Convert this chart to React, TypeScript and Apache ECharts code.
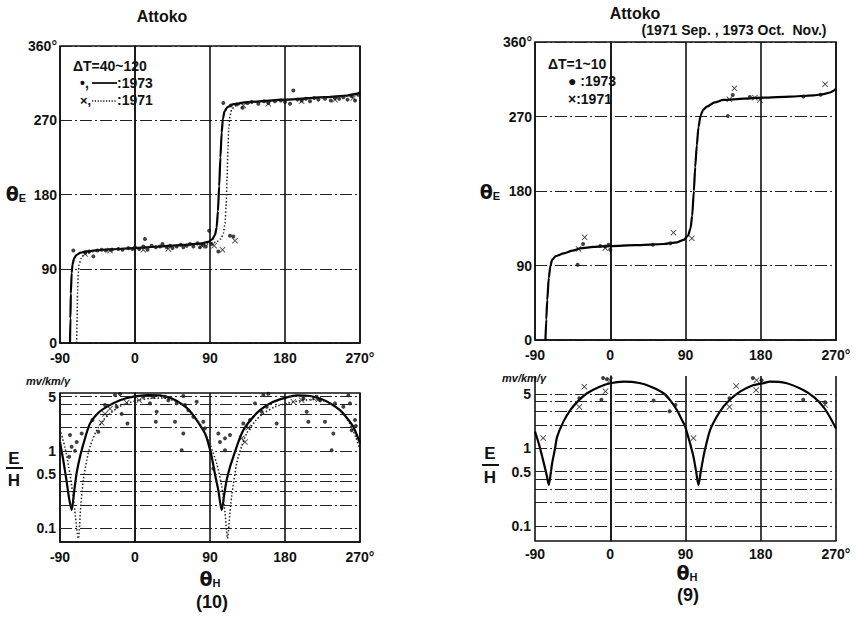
import React, { useEffect, useRef } from "react";
import * as echarts from "echarts";

// ---------- data ----------
const xTicks = [-90, 0, 90, 180, 270];
const thetaETicks = [0, 90, 180, 270, 360];
const ratioLevels = [5, 4, 3, 2, 1, 0.5, 0.4, 0.3, 0.2, 0.1];
const ratioLabels = [5, 1, 0.5, 0.1];

// (10) ΔT = 40~120 : θE vs θH
const curveL73: number[][] = [
  [-78, 0], [-77.5, 30], [-77, 60], [-76, 85], [-75, 95], [-73, 103], [-70, 107], [-65, 109.5],
  [-58, 111], [-45, 112.5], [-30, 113.5], [-2, 115], [30, 117], [60, 119], [78, 120.5], [88, 122.5],
  [93, 126], [96, 131], [98, 140], [99.5, 160], [101, 190], [102.5, 225], [104, 255], [105.5, 272],
  [107.5, 281], [111, 286], [118, 289.5], [135, 292], [180, 295], [230, 298], [255, 300], [265, 302], [270, 304],
];
const curveL71: number[][] = [
  [-70, 0], [-69.5, 30], [-69, 60], [-68, 85], [-67, 95], [-65, 102], [-62, 106], [-57, 109], [-50, 111],
  [-45, 112.2], [-30, 113.3], [0, 115], [30, 117], [60, 118.5], [85, 120], [97, 122], [103, 126], [106, 133],
  [108, 145], [109.5, 170], [110.5, 200], [111.5, 235], [112.5, 260], [114, 275], [116, 283], [120, 287.5],
  [128, 290], [150, 292.5], [200, 296], [250, 299], [270, 302],
];
const dotsL73: number[][] = [
  [-74, 112], [-50, 105], [-60, 110], [-55, 111], [-45, 112], [-40, 113], [-35, 112], [-28, 113], [-20, 114],
  [-15, 113], [-8, 115], [-3, 114], [0, 116], [5, 114], [10, 117], [12, 126], [15, 113], [20, 118], [25, 116],
  [30, 117], [33, 120], [38, 116], [42, 118], [45, 115], [50, 117], [55, 119], [58, 116], [62, 118], [66, 120],
  [70, 117], [75, 121], [78, 116], [82, 119], [85, 117], [89, 136], [92, 120], [100, 111], [114, 130], [118, 129],
  [106, 291], [115, 288], [122, 289], [129, 285], [135, 291], [140, 292], [148, 290], [155, 293], [160, 291],
  [168, 293], [175, 294], [180, 292], [186, 290], [190, 306], [195, 295], [200, 294], [205, 296], [210, 293],
  [215, 297], [220, 295], [228, 296], [235, 294], [240, 297], [245, 296], [250, 298], [255, 295], [260, 299],
  [264, 294], [268, 301],
];
const crossL71: number[][] = [
  [-60, 108], [-30, 112], [10, 113], [40, 114], [80, 118], [95, 118], [105, 113], [120, 124],
  [130, 288], [160, 290], [200, 293], [240, 295], [262, 297],
];

// (10) E/H
const ratioL73: number[][] = [
  [-90, 1.3], [-86, 0.75], [-82, 0.4], [-79, 0.24], [-76, 0.172], [-73, 0.3], [-70, 0.52], [-66, 0.84],
  [-60, 1.45], [-54, 2.26], [-44, 3.1], [-34, 3.7], [-18, 4.5], [-2, 5.0], [15, 5.25], [30, 5.2], [45, 4.7],
  [58, 3.9], [66, 3.25], [74, 2.5], [84, 1.68], [88, 1.25], [92, 0.84], [96, 0.5], [100, 0.31], [104, 0.172],
  [107, 0.27], [110, 0.42], [114, 0.62], [118, 0.84], [124, 1.3], [130, 1.85], [140, 2.6], [150, 3.35],
  [164, 4.2], [178, 4.76], [194, 5.2], [210, 5.1], [225, 4.6], [236, 4.0], [246, 3.35], [255, 2.6],
  [262, 2.04], [270, 1.25],
];
const ratioL71: number[][] = [
  [-90, 1.9], [-84, 1.1], [-78, 0.5], [-73, 0.2], [-68, 0.074], [-65, 0.2], [-62, 0.42], [-58, 0.75],
  [-54, 1.13], [-46, 1.85], [-38, 2.5], [-30, 3.04], [-20, 3.65], [-10, 4.1], [4, 4.5], [18, 4.75], [35, 4.8],
  [50, 4.3], [62, 3.6], [72, 2.75], [82, 1.9], [90, 1.2], [98, 0.69], [104, 0.35], [108, 0.16], [111, 0.074],
  [114, 0.16], [116, 0.26], [122, 0.69], [128, 1.15], [134, 1.68], [144, 2.4], [154, 3.04], [168, 3.7],
  [182, 4.1], [202, 4.5], [220, 4.6], [236, 4.0], [248, 3.2], [258, 2.2], [265, 1.5], [270, 1.02],
];
const ratioDotsL73: number[][] = [
  [-18, 5.4], [-24, 5.25], [-36, 3.9], [-22, 3.7], [-16, 3.0], [-9, 2.26], [-51, 2.5], [-44, 1.76],
  [-78, 1.6], [-70, 1.3], [-76, 1.13], [-64, 1.68], [-72, 1.0], [-79, 0.84], [10, 5.0], [18, 4.1], [22, 5.0],
  [26, 3.2], [25, 2.37], [36, 5.0], [40, 4.5], [48, 2.37], [50, 4.1], [58, 1.68], [56, 1.02], [60, 3.9],
  [64, 3.35], [70, 2.75], [82, 2.37], [84, 1.95], [58, 5.1], [74, 4.3], [94, 0.59], [100, 1.68], [102, 1.3],
  [108, 1.45], [108, 1.02], [114, 1.6], [130, 2.26], [138, 2.5], [144, 4.1], [154, 5.25], [160, 5.45],
  [158, 3.7], [152, 3.2], [170, 2.26], [202, 4.75], [206, 3.2], [208, 2.37], [218, 5.0], [222, 4.5],
  [228, 2.37], [238, 1.68], [236, 1.02], [240, 4.1], [250, 3.7], [256, 5.2], [258, 4.1], [260, 1.85],
  [264, 2.5], [265, 2.1],
];
const ratioCrossL71: number[][] = [
  [-40, 2.3], [-36, 3.0], [-30, 3.5], [-10, 4.2], [5, 4.5], [128, 1.45], [132, 1.3], [136, 2.0],
  [190, 4.3], [200, 4.5], [214, 4.8], [220, 4.6],
];

// (9) ΔT = 1~10 : θE vs θH
const curveR: number[][] = [
  [-77.5, 0], [-76.5, 25], [-75.4, 48], [-73.5, 75], [-71.5, 90], [-69.5, 97], [-65, 101.5], [-55.6, 104.7],
  [-45, 108], [-35.7, 110.8], [-20, 112.5], [0, 113.5], [30, 114.5], [64, 116], [80, 118], [88, 121], [93, 126],
  [96, 135], [98, 150], [100, 180], [101.6, 209], [103.5, 235], [105.5, 257], [108, 271], [111, 278],
  [115.5, 282], [125, 287], [135, 290], [160, 291.5], [183, 292.7], [215, 294], [243, 295.5], [255, 297],
  [263, 299], [267, 301], [270, 304],
];
const dotsR73: number[][] = [
  [-39, 91], [-32.5, 116], [-12, 113.5], [-6, 113], [0, 109], [-2, 115], [51, 115], [72, 117],
  [140.6, 270.6], [146.5, 296], [167, 293.5], [231, 294], [251.6, 296.4],
];
const crossR71: number[][] = [
  [-38, 110], [-30.6, 124], [-6, 111], [75.6, 129.6], [97.6, 122.8], [142.5, 290.7], [148.5, 304],
  [173, 292.7], [179, 290], [257, 309],
];

// (9) E/H
const ratioR: number[][] = [
  [-90, 1.64], [-85, 1.1], [-80, 0.68], [-76, 0.45], [-73.5, 0.337], [-71.5, 0.45], [-69.5, 0.64], [-66, 1.0],
  [-63.5, 1.41], [-56, 2.2], [-47.6, 3.11], [-38, 4.1], [-27.7, 5.1], [-14, 6.1], [0, 6.86], [16, 7.2],
  [35, 6.9], [50, 6.1], [63.7, 5.1], [72, 4.1], [79.7, 3.1], [85, 2.4], [89.6, 1.9], [95, 1.2], [99.5, 0.78],
  [103, 0.48], [105.5, 0.337], [108, 0.48], [111.5, 0.78], [115, 1.15], [119.5, 1.72], [127, 2.5],
  [135.4, 3.43], [145, 4.4], [155.3, 5.35], [170, 6.4], [183, 6.86], [191, 7.2], [210, 6.9], [230.8, 5.6],
  [244, 4.5], [254.7, 3.43], [262, 2.6], [270, 1.8],
];
const ratioDotsR73: number[][] = [
  [-37, 4.4], [-10.6, 4.2], [-8.6, 8.0], [-4, 7.7], [51.8, 4.1], [70.9, 3.0], [78, 3.6], [142.6, 4.4],
  [170.5, 8.0], [181, 7.5], [230.8, 4.2], [257, 3.9],
];
const ratioCrossR71: number[][] = [
  [-80.2, 1.35], [-37, 3.4], [-31, 6.2], [-5.7, 5.4], [0, 7.5], [99.5, 1.35], [142.6, 3.4], [150.6, 6.3],
  [174.4, 5.6], [175, 7.5], [257, 3.6],
];

// ---------- styles ----------
const INK = "#111";
const NARROW = "'Liberation Sans Narrow', 'Liberation Sans', Arial, sans-serif";
const SANS = "'Liberation Sans', Arial, sans-serif";
const CROSS = "path://M0,1L1,0L5,4L9,0L10,1L6,5L10,9L9,10L5,6L1,10L0,9L4,5Z";
const DASHDOT = [12, 3, 2, 3];

function xAxisFor(gridIndex: number, margin = 8) {
  return {
    gridIndex,
    type: "value",
    min: -90,
    max: 270,
    interval: 90,
    axisLine: { show: true, lineStyle: { color: INK, width: 1.5 } },
    axisTick: { show: false },
    axisLabel: {
      color: INK,
      fontFamily: NARROW,
      fontWeight: "bold",
      fontSize: 14,
      lineHeight: 13,
      margin,
      formatter: (v: number) => (xTicks.includes(v) ? (v === 270 ? "270°" : String(v)) : ""),
    },
    splitLine: { show: true, lineStyle: { color: INK, width: 1.6 } },
  };
}

function thetaYAxis(gridIndex: number) {
  return {
    gridIndex,
    type: "value",
    min: 0,
    max: 360,
    interval: 90,
    axisLine: { show: true, lineStyle: { color: INK, width: 1.5 } },
    axisTick: { show: false },
    axisLabel: {
      color: INK,
      fontFamily: NARROW,
      fontWeight: "bold",
      fontSize: 14,
      lineHeight: 13,
      margin: 3,
      formatter: (v: number) => (thetaETicks.includes(v) ? (v === 360 ? "360°" : String(v)) : ""),
    },
    splitLine: { show: true, lineStyle: { color: "#222", width: 1.2, type: DASHDOT } },
  };
}

function ratioYAxis(gridIndex: number, min: number, max: number) {
  return {
    gridIndex,
    type: "log",
    logBase: 10,
    min,
    max,
    axisLine: { show: true, lineStyle: { color: INK, width: 1.5 } },
    axisTick: { show: false },
    axisLabel: { show: false },
    splitLine: { show: false },
  };
}

function levelMarkLine() {
  return {
    silent: true,
    symbol: ["none", "none"],
    animation: false,
    lineStyle: { color: "#222", width: 1.2, type: DASHDOT },
    data: ratioLevels.map((v) => ({
      yAxis: v,
      label: ratioLabels.includes(v)
        ? {
            show: true,
            position: "start",
            distance: 4,
            formatter: String(v),
            color: INK,
            fontFamily: NARROW,
            fontWeight: "bold",
            fontSize: 14,
            lineHeight: 13,
          }
        : { show: false },
    })),
  };
}

function curve(xi: number, data: number[][], dotted: boolean, smoothMono: boolean, extra: any = {}) {
  return {
    type: "line",
    xAxisIndex: xi,
    yAxisIndex: xi,
    data,
    showSymbol: false,
    symbol: "none",
    smooth: 0.25,
    smoothMonotone: smoothMono ? "x" : undefined,
    silent: true,
    lineStyle: dotted ? { color: "#222", width: 1.5, type: [1.5, 2] } : { color: "#000", width: 2.2 },
    z: 3,
    ...extra,
  };
}

function dots(xi: number, data: number[][]) {
  return {
    type: "scatter",
    xAxisIndex: xi,
    yAxisIndex: xi,
    data,
    symbol: "circle",
    symbolSize: 4,
    itemStyle: { color: INK },
    silent: true,
    z: 4,
  };
}

function crosses(xi: number, data: number[][]) {
  return {
    type: "scatter",
    xAxisIndex: xi,
    yAxisIndex: xi,
    data,
    symbol: CROSS,
    symbolSize: 6,
    itemStyle: { color: INK },
    silent: true,
    z: 4,
  };
}

function txt(x: number, y: number, text: string, font: string, align = "center", extra: any = {}) {
  return {
    type: "text",
    x,
    y,
    silent: true,
    style: {
      text,
      font,
      fill: INK,
      align,
      textAlign: align,
      verticalAlign: "middle",
      textVerticalAlign: "middle",
      ...extra,
    },
  };
}

function gline(x1: number, y1: number, x2: number, y2: number, dash?: number[], w = 1.6) {
  return {
    type: "line",
    silent: true,
    shape: { x1, y1, x2, y2 },
    style: { stroke: INK, lineWidth: w, lineDash: dash },
  };
}

function thetaLabel(x: number, y: number, sub: string) {
  return txt(x, y, "{a|θ}{b|" + sub + "}", "bold 18px " + SANS, "center", {
    rich: {
      a: { font: "bold 19px 'DejaVu Sans', sans-serif", fill: INK, lineHeight: 18 },
      b: { font: "bold 11px " + SANS, fill: INK, padding: [7, 0, 0, 0], lineHeight: 11 },
    },
  });
}

export default function App() {
  const ref = useRef<HTMLDivElement>(null);
  useEffect(() => {
    if (!ref.current) return;
    const chart = echarts.init(ref.current, undefined, { renderer: "svg" });
    const option: any = {
      animation: false,
      backgroundColor: "#fff",
      grid: [
        { left: 60, top: 46, width: 300, height: 297, show: true, borderColor: INK, borderWidth: 1.5, backgroundColor: "transparent" },
        { left: 60, top: 393, width: 300, height: 149, show: true, borderColor: INK, borderWidth: 1.5, backgroundColor: "transparent" },
        { left: 535, top: 42, width: 301, height: 298, show: true, borderColor: INK, borderWidth: 1.5, backgroundColor: "transparent" },
        { left: 535, top: 376, width: 301, height: 165, show: false },
      ],
      xAxis: [xAxisFor(0), xAxisFor(1), xAxisFor(2), xAxisFor(3, 6)],
      yAxis: [thetaYAxis(0), ratioYAxis(1, 0.0667, 5.58), thetaYAxis(2), ratioYAxis(3, 0.064, 8.5)],
      series: [
        curve(0, curveL73, false, true),
        curve(0, curveL71, true, true),
        dots(0, dotsL73),
        crosses(0, crossL71),
        curve(1, ratioL73, false, false, { markLine: levelMarkLine() }),
        curve(1, ratioL71, true, false),
        dots(1, ratioDotsL73),
        crosses(1, ratioCrossL71),
        curve(2, curveR, false, true),
        dots(2, dotsR73),
        crosses(2, crossR71),
        curve(3, ratioR, false, false, { markLine: levelMarkLine() }),
        dots(3, ratioDotsR73),
        crosses(3, ratioCrossR71),
      ],
      graphic: [
        // left panel texts
        txt(162, 16, "Attoko", "bold 16px " + SANS),
        txt(73, 66, "ΔT=40~120", "bold 14px " + NARROW, "left"),
        txt(80, 83, "•,", "bold 14px " + NARROW, "left"),
        gline(92, 83, 117, 83, undefined, 1.8),
        txt(117, 83, ":1973", "bold 14px " + NARROW, "left"),
        txt(80, 100, "×,", "bold 13px " + NARROW, "left"),
        gline(92, 101, 117, 101, [1.2, 1.6], 1.3),
        txt(117, 100, ":1971", "bold 14px " + NARROW, "left"),
        thetaLabel(16, 194, "E"),
        txt(48, 381, "mv/km/γ", "bold italic 11px " + NARROW),
        txt(14, 458, "E", "bold 17px " + SANS),
        gline(6, 468, 23, 468, undefined, 2),
        txt(14, 480, "H", "bold 17px " + SANS),
        thetaLabel(210, 579, "H"),
        txt(212, 602, "(10)", "bold 18px " + SANS),
        // right panel texts
        txt(635, 13, "Attoko", "bold 16px " + SANS),
        txt(734, 30, "(1971 Sep. , 1973 Oct.  Nov.)", "bold 14px " + NARROW),
        txt(548, 64, "ΔT=1~10", "bold 14px " + NARROW, "left"),
        txt(568, 81, "● :1973", "bold 14px " + NARROW, "left"),
        txt(568, 99, "×:1971", "bold 14px " + NARROW, "left"),
        thetaLabel(490, 192, "E"),
        txt(524, 378, "mv/km/γ", "bold italic 11px " + NARROW),
        txt(490, 453, "E", "bold 17px " + SANS),
        gline(482, 465, 499, 465, undefined, 2),
        txt(490, 477, "H", "bold 17px " + SANS),
        thetaLabel(687, 573, "H"),
        txt(688, 595, "(9)", "bold 18px " + SANS),
      ],
    };
    chart.setOption(option);
    return () => chart.dispose();
  }, []);
  return (
    <div
      ref={ref}
      style={{ position: "absolute", left: 0, top: 0, width: 858, height: 618, background: "#fff" }}
    />
  );
}
